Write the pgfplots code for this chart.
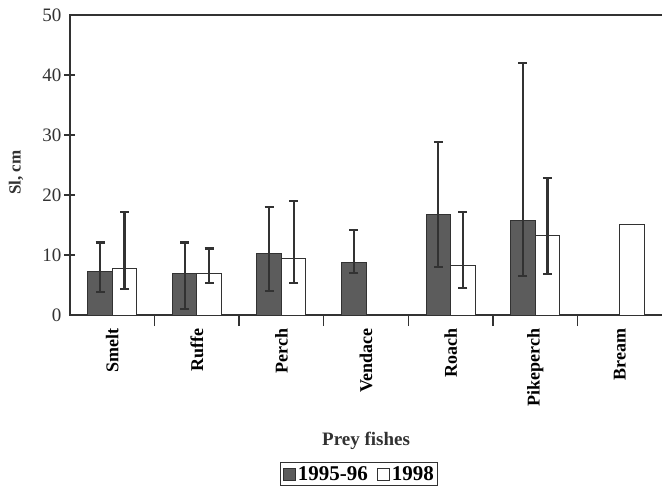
\documentclass[border=0pt]{standalone}
\usepackage{pgfplots}
\pgfplotsset{compat=1.18}
\usepackage{fontspec}
\setmainfont{Liberation Serif}
\definecolor{darkbar}{RGB}{92,92,92}
\definecolor{ink}{RGB}{50,50,50}
\begin{document}
\begin{tikzpicture}
\begin{axis}[
  scale only axis, width=609pt, height=300pt,
  xmin=-0.5, xmax=6.7, ymin=0, ymax=50,
  axis line style={line width=1.4pt, ink},
  xtick pos=left, ytick pos=left,
  tick align=center, major tick length=0pt, minor tick length=11pt,
  minor tick style={line width=1.4pt, draw=ink},
  ytick={0,10,...,50},
  minor ytick={10,20,30,40},
  xtick={0,1,2,3,4,5,6},
  xticklabels={Smelt,Ruffe,Perch,Vendace,Roach,Pikeperch,Bream},
  minor xtick={0.5,1.5,2.5,3.5,4.5,5.5},
  xticklabel style={rotate=90, anchor=east, font=\bfseries\fontsize{18}{20}\selectfont, xshift=-10pt},
  /pgf/number format/assume math mode=true,
  yticklabel style={font=\fontsize{19}{21}\selectfont, ink, xshift=-5pt},
  ylabel={Sl, cm},
  ylabel style={at={(axis description cs:0,0.475)}, anchor=center, rotate=0, yshift=54pt, font=\bfseries\fontsize{17}{19}\selectfont, ink},
  xlabel={Prey fishes},
  xlabel style={at={(axis cs:3,0)}, anchor=center, yshift=-126pt, font=\bfseries\fontsize{19}{21}\selectfont, ink},
  ybar, bar width=24.5pt,
  legend columns=2,
  legend style={at={(axis cs:2.92,0)}, anchor=north, yshift=-147pt, draw=ink, line width=0.9pt,
     font=\bfseries\fontsize{21}{24}\selectfont, inner sep=2pt,
     /tikz/every even column/.append style={column sep=7pt},
     /tikz/every odd column/.append style={column sep=0pt}},
  legend image code/.code={\draw[#1, line width=1pt] (0pt,-6pt) rectangle (12pt,6pt);},
]
\addplot[bar shift=-12.25pt, fill=darkbar, draw=ink, line width=1pt,
  error bars/.cd, y dir=both, y explicit,
  error bar style={line width=2.2pt, ink},
  error mark options={rotate=90, mark size=4.5pt, line width=2.2pt, ink}]
coordinates {
 (0,7.2) += (0,4.9) -= (0,3.3)
 (1,7.0) += (0,5.1) -= (0,6.0)
 (2,10.3) += (0,7.7) -= (0,6.3)
 (3,8.7) += (0,5.5) -= (0,1.7)
 (4,16.7) += (0,12.2) -= (0,8.7)
 (5,15.8) += (0,26.2) -= (0,9.3)
};
\addlegendentry{1995-96}
\addplot[bar shift=12.25pt, fill=white, draw=ink, line width=1pt,
  error bars/.cd, y dir=both, y explicit,
  error bar style={line width=2.2pt, ink},
  error mark options={rotate=90, mark size=4.5pt, line width=2.2pt, ink}]
coordinates {
 (0,7.8) += (0,9.4) -= (0,3.4)
 (1,7.0) += (0,4.1) -= (0,1.7)
 (2,9.5) += (0,9.5) -= (0,4.2)
 (4,8.3) += (0,8.9) -= (0,3.8)
 (5,13.3) += (0,9.6) -= (0,6.5)
};
\addlegendentry{1998}
\addplot[bar shift=12.25pt, fill=white, draw=ink, line width=1pt, forget plot]
coordinates {(6,15.1)};
\end{axis}
\pgfresetboundingbox
\useasboundingbox ([xshift=-70pt,yshift=-176pt]current axis.south west) rectangle ([xshift=592pt,yshift=315pt]current axis.south west);
\end{tikzpicture}
\end{document}
